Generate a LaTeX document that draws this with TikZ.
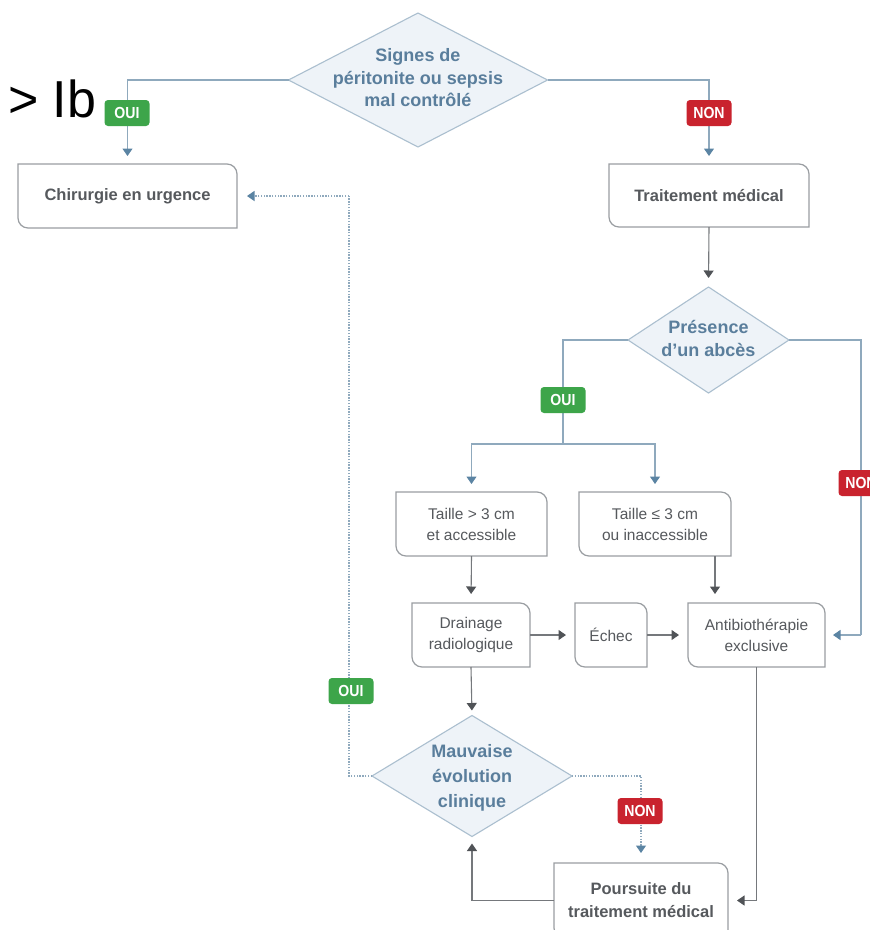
\documentclass[tikz,border=0pt]{standalone}
\usepackage{fontspec}
\setmainfont{Liberation Sans}
\newfontfamily\condfont{Liberation Sans}[FakeStretch=0.88]
\usetikzlibrary{shapes.geometric,arrows.meta,calc}
\definecolor{bline}{HTML}{8FA9BD}
\definecolor{bhead}{HTML}{5B84A3}
\definecolor{dline}{HTML}{75787C}
\definecolor{dhead}{HTML}{505357}
\definecolor{boxdraw}{HTML}{9A9EA2}
\definecolor{boxtext}{HTML}{56595D}
\definecolor{qfill}{HTML}{EEF3F8}
\definecolor{qdraw}{HTML}{ABBFCF}
\definecolor{qtextc}{HTML}{5A7E9C}
\definecolor{ogreen}{HTML}{3DA54A}
\definecolor{nred}{HTML}{C9232E}
\newcommand\leafoutline[1]{\draw[boxline] (#1.north west) -- ([xshift=-10pt]#1.north east) arc[start angle=90,end angle=0,radius=10pt] -- (#1.south east) -- ([xshift=10pt]#1.south west) arc[start angle=270,end angle=180,radius=10pt] -- cycle;}
\begin{document}
\begin{tikzpicture}[x=1pt,y=-1pt,
  boxline/.style={draw=boxdraw,line width=1.2pt},
  boxn/.style={rectangle,inner sep=0pt,outer sep=0pt,align=center,text=boxtext},
  boldtxt/.style={font=\bfseries\fontsize{16.5}{23}\selectfont},
  regtxt/.style={font=\fontsize{15.5}{21}\selectfont},
  qshape/.style={diamond,draw=qdraw,fill=qfill,line width=1.1pt,inner sep=0pt,outer sep=0pt},
  qtext/.style={align=center,text=qtextc,inner sep=0pt},
  tag/.style={rounded corners=3.5pt,text=white,inner sep=0pt,minimum width=45pt,minimum height=26pt,font=\condfont\bfseries\fontsize{16}{16}\selectfont},
  bl/.style={draw=bline,line width=1.1pt},
  barrow/.style={bl,-{Triangle[width=10pt,length=7.5pt,color=bhead]},shorten >=8pt},
  darrow/.style={draw=dline,line width=1.1pt,-{Triangle[width=10pt,length=7.5pt,color=dhead]},shorten >=9pt},
  dotl/.style={draw=bline,line width=1.3pt,dash pattern=on 1.4pt off 1.4pt},
  dotarrow/.style={dotl,-{Triangle[width=10pt,length=7.5pt,color=bhead]},shorten >=10pt}]
\path[use as bounding box] (0,0) rectangle (870,930);
\clip (0,0) rectangle (870,930);
\fill[white] (0,0) rectangle (870,930);

% stray text
\node[anchor=base west,inner sep=0pt,font=\fontsize{52}{52}\selectfont] (ib) at (8,117) {> Ib};

% diamonds
\node[qshape,minimum width=259pt,minimum height=134pt] (q1) at (418,80) {};
\node[qtext,font=\bfseries\fontsize{18}{22.5}\selectfont] (q1t) at (418,78) {Signes de\\péritonite ou sepsis\\mal contrôlé};
\node[qshape,minimum width=161pt,minimum height=106pt] (q2) at (708.5,340) {};
\node[qtext,font=\bfseries\fontsize{18}{23}\selectfont] (q2t) at (708.5,338.5) {Présence\\d'un abcès};
\node[qshape,minimum width=200pt,minimum height=121pt] (q3) at (472,776) {};
\node[qtext,font=\bfseries\fontsize{18}{25}\selectfont] (q3t) at (472,777.5) {Mauvaise\\évolution\\clinique};

% boxes
\node[boxn,boldtxt,minimum width=219pt,minimum height=64pt] (chir) at (127.5,196) {Chirurgie en urgence};
\node[boxn,boldtxt,minimum width=200pt,minimum height=63pt] (trait) at (709,195.5) {Traitement médical};
\node[boxn,regtxt,minimum width=151pt,minimum height=64pt] (t1) at (471.5,524) {Taille > 3 cm\\et accessible};
\node[boxn,regtxt,minimum width=152pt,minimum height=64pt] (t2) at (655,524) {Taille ≤ 3 cm\\ou inaccessible};
\node[boxn,regtxt,minimum width=118pt,minimum height=64pt] (drain) at (471,635) {Drainage\\radiologique};
\node[boxn,regtxt,minimum width=72pt,minimum height=64pt] (echec) at (611,635) {Échec};
\node[boxn,regtxt,minimum width=137pt,minimum height=64pt] (antib) at (756.5,635) {Antibiothérapie\\exclusive};
\node[boxn,boldtxt,minimum width=174pt,minimum height=75pt] (pours) at (641,900.5) {Poursuite du\\traitement médical};
\foreach \n in {chir,trait,t1,t2,drain,echec,antib,pours}{\leafoutline{\n}}

% connectors
\coordinate (split) at (563,444);
\coordinate (rc) at (861,635);
\coordinate (dl) at (349,196);
\draw[barrow] (q1.west) -| (chir.north);
\draw[barrow] (q1.east) -| (trait.north);
\draw[darrow] (trait.south) -- (q2.north);
\draw[bl] (q2.west) -| (split);
\draw[barrow] (split) -| (t1.north);
\draw[barrow] (split) -| (t2.north);
\draw[bl] (q2.east) -| (rc);
\draw[barrow] (rc) -- (antib.east);
\draw[darrow] (t1.south) -- (drain.north);
\draw[darrow] ([xshift=60pt]t2.south) -- ([xshift=60pt]t2.south |- antib.north);
\draw[darrow] (drain.east) -- (echec.west);
\draw[darrow] (echec.east) -- (antib.west);
\draw[darrow,shorten >=5pt] (drain.south) -- (q3.north);
\draw[dotl] (q3.west) -| (dl);
\draw[dotarrow] (dl) -- (chir.east);
\draw[dotarrow] (q3.east) -| (pours.north);
\draw[darrow] (antib.south) |- (pours.east);
\draw[darrow,shorten >=7pt] (pours.west) -| (q3.south);

% tags
\node[tag,fill=ogreen] (l1) at (127,113) {OUI};
\node[tag,fill=nred] (l2) at (709,113) {NON};
\node[tag,fill=ogreen] (l3) at (563,400) {OUI};
\node[tag,fill=nred] (l4) at (861,483) {NON};
\node[tag,fill=ogreen] (l5) at (351,691) {OUI};
\node[tag,fill=nred] (l6) at (640,811) {NON};
\end{tikzpicture}
\end{document}
